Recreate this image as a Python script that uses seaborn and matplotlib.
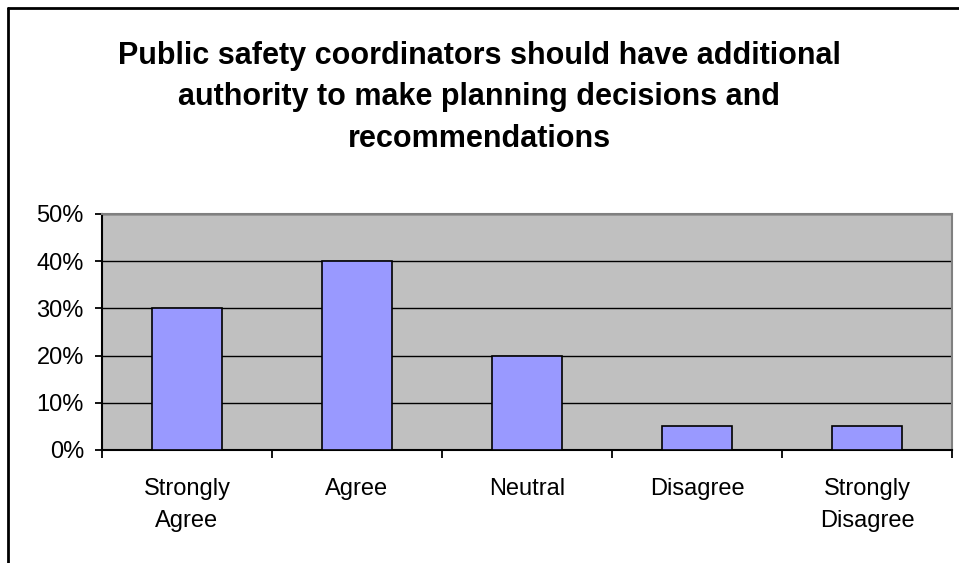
import matplotlib
matplotlib.use('Agg')
import matplotlib.pyplot as plt
import seaborn as sns
from matplotlib.lines import Line2D
from matplotlib.ticker import FixedLocator, PercentFormatter

# Data
categories = ['Strongly\nAgree', 'Agree', 'Neutral', 'Disagree', 'Strongly\nDisagree']
shares = [30, 40, 20, 5, 5]
title_text = ('Public safety coordinators should have additional\n'
              'authority to make planning decisions and\n'
              'recommendations')

sns.set_style('white')
plt.rcParams['font.family'] = ['Liberation Sans', 'DejaVu Sans']
plt.rcParams['text.color'] = 'black'
plt.rcParams['xtick.labelcolor'] = 'black'
plt.rcParams['ytick.labelcolor'] = 'black'

fig = plt.figure(figsize=(9.59, 5.63), dpi=100)
ax = fig.add_axes([102 / 959, 1 - 450 / 563, (952 - 102) / 959, (450 - 214) / 563])
ax.set_facecolor('#C0C0C0')

sns.barplot(x=categories, y=shares, ax=ax, color='#9999FF', width=0.41,
            edgecolor='black', linewidth=1.2, saturation=1, zorder=3)

ax.set_ylim(0, 50)
ax.set_xlim(-0.5, len(categories) - 0.5)
ax.set_yticks([0, 10, 20, 30, 40, 50])
ax.yaxis.set_major_formatter(PercentFormatter(decimals=0))
ax.yaxis.grid(True, color='black', linewidth=1, zorder=1)
ax.set_axisbelow(True)

# category separators as tick marks
ax.xaxis.set_minor_locator(FixedLocator([i - 0.5 for i in range(len(categories) + 1)]))
ax.tick_params(axis='x', which='major', length=0, pad=20, labelsize=17)
ax.tick_params(axis='x', which='minor', length=6, width=1.3, color='black', direction='out', bottom=True)
ax.tick_params(axis='y', which='major', length=5, width=1.3, color='black', direction='out', left=True,
               labelsize=17, pad=8)
for lbl in ax.get_xticklabels():
    lbl.set_linespacing(1.6)
    lbl.set_verticalalignment('top')

for side in ['left', 'bottom']:
    ax.spines[side].set_color('black')
    ax.spines[side].set_linewidth(1.5)
for side in ['top', 'right']:
    ax.spines[side].set_color('#808080')
    ax.spines[side].set_linewidth(1.5)
ax.set_xlabel('')
ax.set_ylabel('')

fig.text(0.5, 1 - 41 / 563, title_text, ha='center', va='top', fontsize=22,
         fontweight='bold', linespacing=1.5)

# outer chart frame (left and top edges visible)
fig.add_artist(Line2D([8 / 959, 8 / 959], [0, 1 - 8 / 563], transform=fig.transFigure,
                      color='black', linewidth=2))
fig.add_artist(Line2D([8 / 959, 1], [1 - 8 / 563, 1 - 8 / 563], transform=fig.transFigure,
                      color='black', linewidth=2))

fig.savefig('out.png', dpi=100)
